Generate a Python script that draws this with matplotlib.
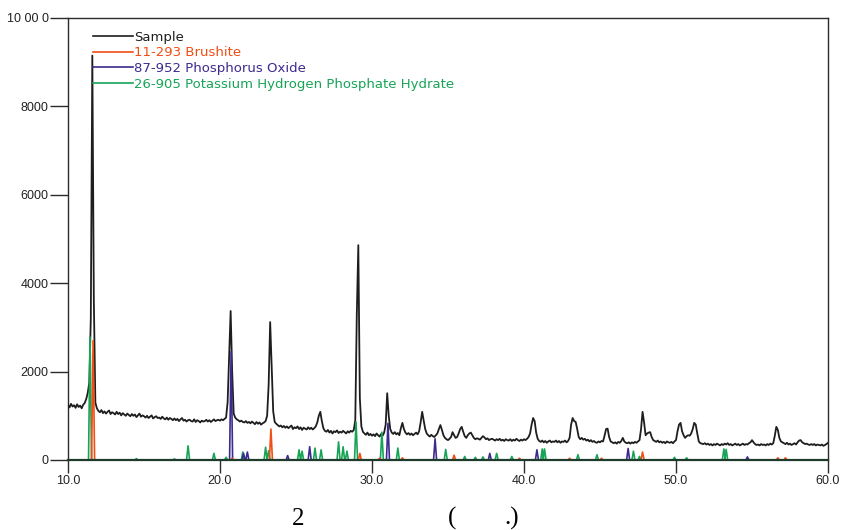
import numpy as np
import matplotlib
matplotlib.use("Agg")
import matplotlib.pyplot as plt

# ---------------- data ----------------
# measured sample pattern, 2-theta grid 10.0 .. 60.0 step 0.1
sample_start, sample_stop, sample_step = 10.0, 60.0, 0.1
sample_counts = [
    1250, 1190, 1270, 1210, 1240, 1180, 1260, 1200, 1230, 1170,   # 10
    1250, 1290, 1380, 1520, 1750, 3200, 9150, 3600, 1300, 1170,   # 11
    1110, 1080, 1130, 1060, 1100, 1050, 1090, 1120, 1040, 1080,   # 12
    1060, 1030, 1090, 1040, 1070, 1010, 1060, 1030, 1000, 1050,   # 13
    1020, 990, 1040, 1000, 1030, 970, 1010, 1050, 980, 1010,      # 14
    990, 960, 1000, 950, 980, 1010, 940, 970, 990, 950,           # 15
    960, 930, 980, 940, 920, 960, 910, 950, 930, 900,             # 16
    940, 900, 930, 880, 920, 950, 890, 910, 870, 900,             # 17
    910, 880, 870, 920, 860, 900, 880, 850, 890, 870,             # 18
    880, 910, 870, 900, 860, 890, 920, 880, 900, 910,             # 19
    890, 920, 900, 930, 960, 1300, 2300, 3370, 2000, 1050,        # 20
    960, 920, 900, 870, 890, 860, 850, 880, 840, 860,             # 21
    830, 870, 840, 810, 860, 820, 850, 800, 830, 850,             # 22
    880, 1000, 1700, 3120, 2100, 1100, 860, 820, 790, 760,        # 23
    780, 740, 770, 730, 760, 720, 750, 780, 700, 740,             # 24
    720, 760, 700, 740, 680, 730, 710, 690, 740, 700,             # 25
    730, 690, 720, 760, 850, 1000, 1090, 880, 720, 660,           # 26
    640, 680, 620, 660, 600, 650, 630, 670, 610, 640,             # 27
    620, 660, 630, 600, 650, 620, 660, 640, 680, 900,             # 28
    3300, 4860, 1400, 760, 640, 600, 570, 620, 560, 590,          # 29
    550, 580, 540, 600, 560, 530, 590, 550, 620, 800,             # 30
    1510, 1000, 700, 620, 590, 630, 580, 610, 560, 720,           # 31
    840, 700, 620, 580, 610, 570, 600, 560, 590, 620,             # 32
    580, 650, 850, 1090, 900, 700, 600, 560, 530, 570,            # 33
    540, 520, 560, 600, 700, 790, 680, 560, 500, 470,             # 34
    450, 480, 520, 630, 560, 500, 520, 600, 700, 750,             # 35
    640, 540, 500, 560, 600, 620, 560, 500, 470, 490,             # 36
    480, 460, 500, 540, 510, 470, 490, 450, 470, 480,             # 37
    460, 440, 470, 450, 480, 440, 460, 430, 470, 450,             # 38
    440, 470, 430, 460, 440, 480, 450, 430, 460, 440,             # 39
    470, 450, 480, 520, 600, 800, 950, 880, 620, 480,             # 40
    430, 410, 440, 400, 430, 390, 420, 440, 400, 420,             # 41
    410, 440, 400, 430, 390, 420, 410, 440, 400, 430,             # 42
    500, 800, 950, 880, 860, 700, 520, 470, 500, 460,             # 43
    480, 440, 460, 420, 450, 410, 430, 400, 390, 420,             # 44
    400, 430, 420, 550, 700, 710, 520, 420, 400, 380,             # 45
    400, 370, 410, 390, 430, 500, 420, 390, 380, 400,             # 46
    370, 400, 380, 410, 390, 420, 450, 700, 1090, 850,            # 47
    560, 600, 620, 630, 520, 450, 430, 410, 440, 400,             # 48
    420, 390, 410, 380, 420, 400, 390, 410, 380, 420,             # 49
    450, 650, 800, 840, 650, 560, 500, 540, 560, 550,             # 50
    600, 700, 840, 800, 600, 420, 380, 370, 360, 380,             # 51
    350, 370, 340, 360, 330, 360, 340, 370, 350, 330,             # 52
    360, 340, 370, 350, 380, 340, 360, 330, 350, 370,             # 53
    340, 360, 330, 350, 370, 340, 360, 350, 380, 400,             # 54
    450, 400, 360, 340, 350, 330, 360, 340, 350, 330,             # 55
    360, 340, 370, 350, 380, 550, 750, 680, 500, 420,             # 56
    400, 380, 360, 390, 350, 370, 340, 360, 380, 350,             # 57
    400, 440, 450, 400, 380, 360, 370, 350, 340, 360,             # 58
    340, 360, 330, 350, 340, 330, 350, 320, 340, 360,             # 59
    390,                                                          # 60
]

# reference patterns (peak position, intensity)
brushite_pos = [11.65, 20.8, 23.35, 29.2, 30.5, 32.0, 35.4, 39.7, 43.0, 45.1, 47.8, 56.7, 57.2]
brushite_int = [2700, 40, 700, 150, 40, 50, 110, 40, 40, 40, 180, 50, 50]

phosphorus_pos = [20.73, 21.55, 21.8, 24.45, 25.9, 31.05, 34.15, 37.75, 40.85, 46.85, 54.7]
phosphorus_int = [2450, 150, 180, 100, 300, 830, 480, 150, 230, 260, 70]

khp_pos = [11.45, 14.5, 17.0, 17.9, 19.6, 20.4, 21.5, 23.0, 23.2, 25.2, 25.4,
           26.25, 26.65, 27.8, 28.1, 28.35, 28.95, 30.65, 31.7, 34.85, 36.1,
           36.8, 37.3, 38.2, 39.2, 41.2, 41.35, 43.55, 44.8, 47.2, 47.6, 49.9,
           50.7, 53.15, 53.3]
khp_int = [2780, 30, 25, 320, 150, 60, 180, 290, 210, 230, 200,
           270, 230, 410, 300, 200, 860, 630, 270, 240, 80,
           60, 70, 150, 80, 250, 250, 120, 120, 200, 80, 60,
           50, 250, 240]

legend_labels = ["Sample", "11-293 Brushite", "87-952 Phosphorus Oxide",
                 "26-905 Potassium Hydrogen Phosphate Hydrate"]
x_ticks = [10, 20, 30, 40, 50, 60]
x_tick_labels = ["10.0", "20.0", "30.0", "40.0", "50.0", "60.0"]
y_ticks = [0, 2000, 4000, 6000, 8000, 10000]
y_tick_labels = ["0", "2000", "4000", "6000", "8000", "10 00 0"]

# ---------------- style ----------------
c_sample = "#1e1e1e"
c_brush = "#f04e14"
c_phos = "#3d2a8e"
c_khp = "#17a457"
c_axis = "#2b2b2b"

plt.rcParams["font.family"] = ["Liberation Sans", "DejaVu Sans"]

fig = plt.figure(figsize=(8.44, 5.30), dpi=100)
ax = fig.add_axes([68 / 844, 70 / 530, 760 / 844, 442 / 530])


def stick_profile(pos, inten, half_width=0.1):
    xs = [sample_start]
    ys = [0.0]
    for p, h in sorted(zip(pos, inten)):
        xs += [p - half_width, p, p + half_width]
        ys += [0.0, h, 0.0]
    xs.append(sample_stop)
    ys.append(0.0)
    return xs, ys


sample_x = np.round(sample_start + sample_step * np.arange(len(sample_counts)), 2)
l0, = ax.plot(sample_x, sample_counts, color=c_sample, lw=1.3, zorder=3)

kx, ky = stick_profile(khp_pos, khp_int)
px_, py_ = stick_profile(phosphorus_pos, phosphorus_int)
bx, by = stick_profile(brushite_pos, brushite_int)

l3, = ax.plot(kx, ky, color=c_khp, lw=1.2, zorder=4, clip_on=False)
l2, = ax.plot(px_, py_, color=c_phos, lw=1.2, zorder=5, clip_on=False)
l1, = ax.plot(bx, by, color=c_brush, lw=1.2, zorder=6, clip_on=False)

ax.set_xlim(sample_start, sample_stop)
ax.set_ylim(0, 10000)
ax.set_xticks(x_ticks)
ax.set_xticklabels(x_tick_labels)
ax.set_yticks(y_ticks)
ax.set_yticklabels(y_tick_labels)

for s in ax.spines.values():
    s.set_color(c_axis)
    s.set_linewidth(1.0)
ax.spines["bottom"].set_color("#1f3b2c")
ax.spines["bottom"].set_linewidth(1.6)
ax.spines["bottom"].set_zorder(7)

ax.tick_params(axis="y", length=13, width=1.0, color=c_axis, pad=1,
               labelsize=9, labelcolor="#222222")
ax.tick_params(axis="x", length=9.5, width=1.0, color=c_axis, pad=1.5,
               labelsize=9, labelcolor="#222222")

leg = ax.legend([l0, l1, l2, l3], legend_labels, loc="upper left",
                bbox_to_anchor=(0.033, 0.971), frameon=False,
                prop={"family": "DejaVu Sans", "size": 9.5},
                handlelength=3.0, handletextpad=0.12, labelspacing=0.2,
                borderaxespad=0, borderpad=0)
for txt, col in zip(leg.get_texts(), [c_sample, c_brush, c_phos, c_khp]):
    txt.set_color(col)
for h in leg.get_lines():
    h.set_linewidth(1.2)

# axis title (only the glyphs that render in the original)
serif = ["Liberation Serif", "DejaVu Serif"]
base_y = 1 - 525 / 530
fig.text(298 / 844, base_y, "2", family=serif, fontsize=18, ha="center", va="baseline")
fig.text(452 / 844, base_y, "(", family=serif, fontsize=18, ha="center", va="baseline")
fig.text(512 / 844, base_y, ".)", family=serif, fontsize=18, ha="center", va="baseline")

fig.savefig("out.png", dpi=100)
